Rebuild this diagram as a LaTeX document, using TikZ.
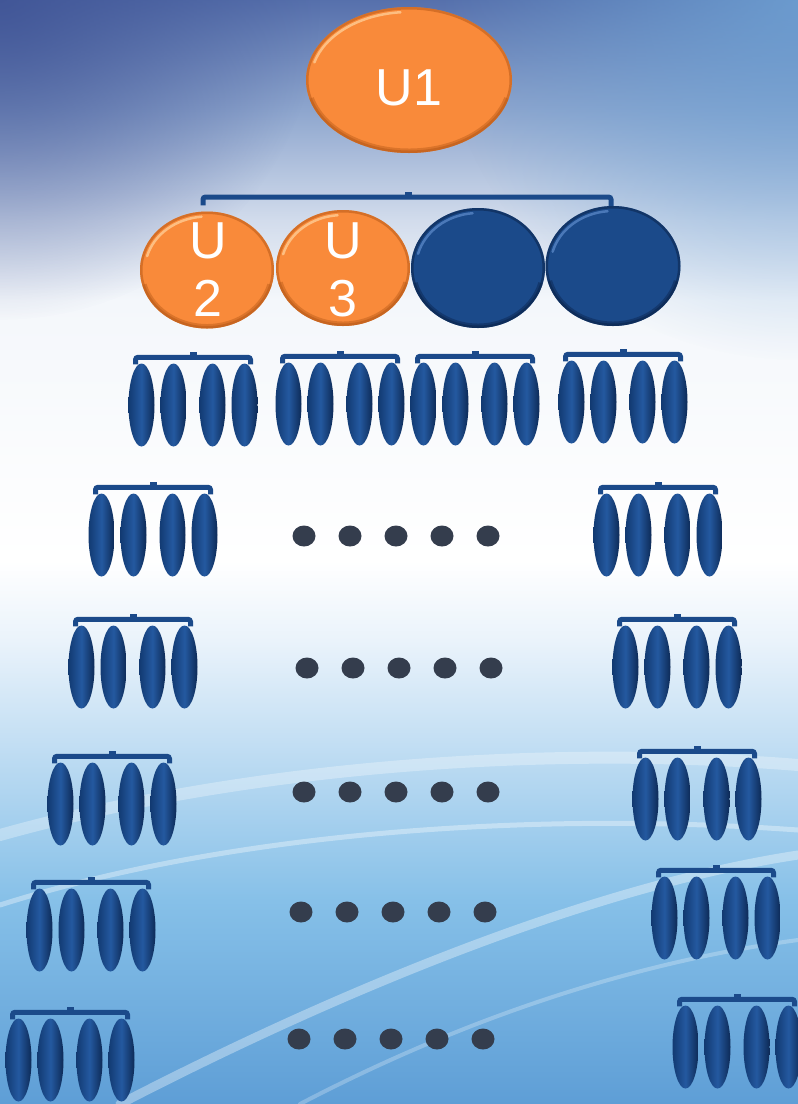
\documentclass[tikz,border=0pt]{standalone}
\usepackage{fontspec}
\setmainfont{Liberation Sans}
\usetikzlibrary{shapes.geometric,calc,fadings}
\definecolor{bgA}{HTML}{5670AC}
\definecolor{bgB}{HTML}{8EA6CE}
\definecolor{bgC}{HTML}{D2DCEC}
\definecolor{bgD}{HTML}{F4F7FB}
\definecolor{bgF}{HTML}{EAF3FB}
\definecolor{bgG}{HTML}{BCDBF2}
\definecolor{bgH}{HTML}{86C0E8}
\definecolor{bgI}{HTML}{5E9ED6}
\definecolor{cornerDark}{HTML}{3E5294}
\definecolor{cornerLight}{HTML}{6FA2D4}
\definecolor{orangeMain}{HTML}{F98A3A}
\definecolor{orangeDark}{HTML}{B85A18}
\definecolor{orangeLight}{HTML}{FFD09A}
\definecolor{blueMain}{HTML}{1B4A8A}
\definecolor{blueDark}{HTML}{0B244C}
\definecolor{blueLight}{HTML}{5A88C8}
\definecolor{ellL}{HTML}{123A72}
\definecolor{ellM}{HTML}{2459A0}
\definecolor{ellR}{HTML}{0D2A56}
\definecolor{dotGray}{HTML}{343D4D}
\pgfdeclareverticalshading{bgshade}{100bp}{color(0bp)=(bgI); color(25bp)=(bgI); color(34.2bp)=(bgH); color(40.6bp)=(bgG); color(46bp)=(bgF); color(49.6bp)=(white); color(61.4bp)=(bgD); color(65bp)=(bgC); color(70bp)=(bgB); color(75bp)=(bgA); color(100bp)=(bgA)}
\pgfdeclareradialshading{cornershade}{\pgfpointorigin}{color(0bp)=(transparent!15); color(12bp)=(transparent!55); color(25bp)=(transparent!100); color(50bp)=(transparent!100)}
\pgfdeclarefading{cornerfade}{\pgfuseshading{cornershade}}
\tikzset{
  bigell/.style={ellipse, inner sep=0pt, draw=none},
  orangeball/.style={bigell, fill=orangeMain},
  blueball/.style={bigell, fill=blueMain},
  smallell/.style={ellipse, inner sep=0pt, minimum width=26pt, minimum height=83pt, shade, left color=ellL, right color=ellR, middle color=ellM},
  brack/.style={draw=blueMain, line width=5pt, rounded corners=2.5pt},
  bticks/.style={draw=blueMain, line width=7pt},
  dotnode/.style={ellipse, inner sep=0pt, minimum width=23pt, minimum height=21pt, fill=dotGray},
  lbl/.style={text=white, font=\fontsize{52}{58}\selectfont, align=center, inner sep=0pt},
  streak/.style={draw=white, line cap=round}
}
\newcommand\ellgrp[3]{%
  \foreach \k/\dx in {1/12.5,2/44.5,3/83.5,4/115.5}{%
    \node[smallell] (#1-\k) at (#2+\dx,-#3) {};
  }%
  \draw[brack] ([shift={(-6pt,-1pt)}]#1-1.north) -- ++(0,7) -| ([shift={(6pt,-1pt)}]#1-4.north);
  \draw[bticks] ($(#1-1.north)!0.5!(#1-4.north)+(0,6)$) -- ++(0,5.5);
}
\newcommand\bevel[5]{% node, rx, ry, dark, light
  \pgfmathsetmacro\rxa{#2-5}\pgfmathsetmacro\rya{#3-5}
  \begin{scope}[shift={(#1.center)}]
    \clip (0,0) ellipse[x radius=#2, y radius=#3];
    \draw[#4, line width=5pt, opacity=.55] (0,0) ellipse[x radius=#2, y radius=#3];
    \draw[#4, line width=9pt, opacity=.45] (195:#2 and #3) arc[start angle=195, end angle=345, x radius=#2, y radius=#3];
    \draw[#5, line width=2.5pt, opacity=.75, line cap=round] (95:\rxa pt and \rya pt) arc[start angle=95, end angle=165, x radius=\rxa, y radius=\rya];
  \end{scope}
}
\begin{document}
\begin{tikzpicture}[x=1pt,y=1pt]
\shade[shading=bgshade] (0,0) rectangle (798,-1104);
\useasboundingbox (0,0) rectangle (798,-1104);
\begin{scope}
\clip (0,0) rectangle (798,-1104);
\fill[cornerDark, path fading=cornerfade] (0,0) circle (320);
\fill[cornerLight, path fading=cornerfade] (798,0) circle (360);
\end{scope}
% background streaks
\draw[streak, line width=12pt, opacity=.30] (0,-835) .. controls (250,-765) and (550,-745) .. (798,-765);
\draw[streak, line width=5pt, opacity=.35] (0,-905) .. controls (220,-835) and (520,-810) .. (798,-830);
\draw[streak, line width=9pt, opacity=.35] (120,-1104) .. controls (350,-985) and (600,-885) .. (798,-855);
\draw[streak, line width=4pt, opacity=.25] (300,-1104) .. controls (480,-1010) and (650,-960) .. (798,-940);

% top level
\node[orangeball, minimum width=206pt, minimum height=146pt] (U1) at (409,-80) {};
\bevel{U1}{103}{73}{orangeDark}{orangeLight}
\node[lbl] (U1t) at (409,-88) {U1};

% second level
\node[orangeball, minimum width=134pt, minimum height=117pt] (U2) at (207,-270) {};
\bevel{U2}{67}{58.5}{orangeDark}{orangeLight}
\node[orangeball, minimum width=134pt, minimum height=116pt] (U3) at (343,-268) {};
\bevel{U3}{67}{58}{orangeDark}{orangeLight}
\node[blueball, minimum width=134pt, minimum height=120pt] (B1) at (478,-268) {};
\bevel{B1}{67}{60}{blueDark}{blueLight}
\node[blueball, minimum width=135pt, minimum height=120pt] (B2) at (613,-266) {};
\bevel{B2}{67.5}{60}{blueDark}{blueLight}
\node[lbl] (U2t) at (208,-270) {U\\2};
\node[lbl] (U3t) at (343,-270) {U\\3};

\coordinate (topbar) at (408,-197);
\draw[brack] ([shift={(-4pt,6pt)}]U2.north) |- (topbar) -| ([shift={(-2pt,0pt)}]B2.north);
\draw[bticks] (topbar) -- ++(0,5);

% third level, row 1
\ellgrp{ga}{129}{405}
\ellgrp{gb}{276}{404}
\ellgrp{gc}{411}{404}
\ellgrp{gd}{559}{402}

% lower rows
\ellgrp{l2}{89}{535}
\ellgrp{r2}{594}{535}
\ellgrp{l3}{69}{667}
\ellgrp{r3}{613}{667}
\ellgrp{l4}{48}{804}
\ellgrp{r4}{633}{799}
\ellgrp{l5}{27}{930}
\ellgrp{r5}{652}{918}
\ellgrp{l6}{6}{1060}
\ellgrp{r6}{673}{1047}

% dots
\foreach \r/\y/\xa in {2/536/304, 3/668/307, 4/792/304, 5/912/301, 6/1039/299}{
  \foreach \i in {0,...,4}{
    \node[dotnode] (dot-\r-\i) at (\xa+\i*46,-\y) {};
  }
}
\end{tikzpicture}
\end{document}
